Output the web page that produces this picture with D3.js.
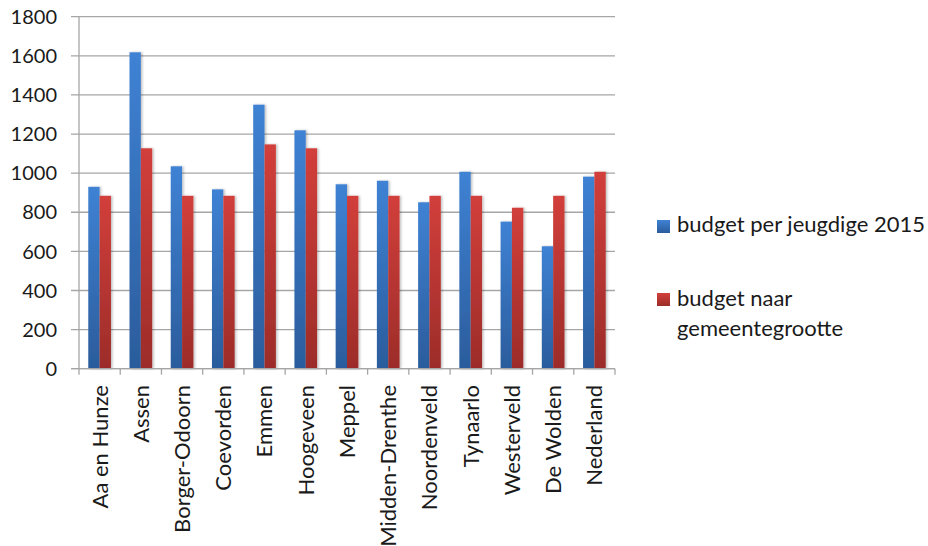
<!DOCTYPE html>
<html><head><meta charset="utf-8">
<script src="https://cdn.jsdelivr.net/npm/d3@7/dist/d3.min.js"></script>
<style>body{margin:0;background:#fff}svg{display:block}text{font-family:Lato,"Open Sans",sans-serif;fill:#1a1a1a}</style>
</head><body><svg id="c" width="928" height="546"></svg>
<script>
const categories = ["Aa en Hunze","Assen","Borger-Odoorn","Coevorden","Emmen","Hoogeveen","Meppel","Midden-Drenthe","Noordenveld","Tynaarlo","Westerveld","De Wolden","Nederland"];
const budgetPerJeugdige = [930,1618,1035,917,1350,1219,943,961,851,1007,752,626,982];
const budgetNaarGrootte = [884,1127,884,884,1147,1127,884,884,884,884,823,884,1007];
const seriesNames = ["budget per jeugdige 2015","budget naar gemeentegrootte"];
const yTicks = [0,200,400,600,800,1000,1200,1400,1600,1800];

const svg = d3.select("#c");
const pL = 79, pR = 615, pT = 16.7, pB = 368.7;
const defs = svg.append("defs");
const grads = [["gB","#3f82d4","#2b5c9c"],["gR","#d23f3b","#9c2c29"]];
grads.forEach(([id,c1,c2])=>{
  const g = defs.append("linearGradient").attr("id",id).attr("x1",0).attr("y1",0).attr("x2",0).attr("y2",1);
  g.append("stop").attr("offset","0%").attr("stop-color",c1);
  g.append("stop").attr("offset","100%").attr("stop-color",c2);
});
const f = defs.append("filter").attr("id","sh").attr("x","-20%").attr("y","-5%").attr("width","160%").attr("height","115%");
f.append("feDropShadow").attr("dx",1.5).attr("dy",0).attr("stdDeviation",1).attr("flood-color","#000").attr("flood-opacity",0.25);

const x = d3.scaleBand().domain(categories).range([pL,pR]).paddingInner(0.45).paddingOuter(0.225);
const xs = d3.scaleBand().domain([0,1]).range([0,x.bandwidth()]);
const y = d3.scaleLinear().domain([0,1800]).range([pB,pT]);

// gridlines
svg.append("g").selectAll("line").data(yTicks).join("line")
  .attr("x1",pL-8).attr("x2",pR).attr("y1",d=>y(d)).attr("y2",d=>y(d))
  .attr("stroke","#a6a6a6").attr("stroke-width",1.3);
// y labels
svg.append("g").selectAll("text").data(yTicks).join("text")
  .attr("x",57).attr("y",d=>y(d)).attr("dy","0.36em").attr("text-anchor","end")
  .attr("font-size",20).text(d=>d);

// bars
const vals = [budgetPerJeugdige,budgetNaarGrootte];
const gb = svg.append("g");
[0,1].forEach(s=>{
  gb.append("g").selectAll("rect").data(categories).join("rect")
    .attr("x",(c)=>x(c)+xs(s)).attr("width",xs.bandwidth())
    .attr("y",(c,i)=>y(vals[s][i])).attr("height",(c,i)=>pB-y(vals[s][i]))
    .attr("fill",s?"url(#gR)":"url(#gB)").attr("filter","url(#sh)");
});

// axes lines
svg.append("line").attr("x1",pL).attr("x2",pL).attr("y1",pT).attr("y2",pB).attr("stroke","#a6a6a6").attr("stroke-width",1.3);
svg.append("line").attr("x1",pL-8).attr("x2",pR).attr("y1",pB).attr("y2",pB).attr("stroke","#a6a6a6").attr("stroke-width",1.3);
const bounds = categories.map(c=>x(c)-x.step()*x.paddingInner()/2).concat([pR]);
svg.append("g").selectAll("line").data(bounds).join("line")
  .attr("x1",d=>d).attr("x2",d=>d).attr("y1",pB).attr("y2",pB+6)
  .attr("stroke","#a6a6a6").attr("stroke-width",1.3);

// x labels
svg.append("g").selectAll("text").data(categories).join("text")
  .attr("transform",c=>`translate(${x(c)+x.bandwidth()/2},385) rotate(-90)`)
  .attr("text-anchor","end").attr("dy","0.36em").attr("font-size",22).text(c=>c);

// legend
const lg = svg.append("g");
lg.append("rect").attr("x",657).attr("y",220).attr("width",13).attr("height",13).attr("fill","url(#gB)");
lg.append("text").attr("x",677).attr("y",232).attr("font-size",22).text(seriesNames[0]);
lg.append("rect").attr("x",657).attr("y",293).attr("width",13).attr("height",13).attr("fill","url(#gR)");
lg.append("text").attr("x",677).attr("y",306).attr("font-size",22).text("budget naar");
lg.append("text").attr("x",677).attr("y",336).attr("font-size",22).text("gemeentegrootte");
</script></body></html>
